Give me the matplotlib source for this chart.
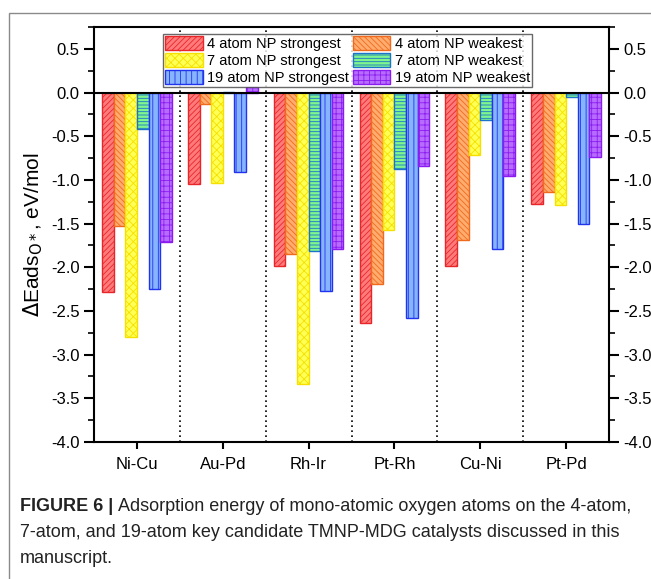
import numpy as np
import matplotlib.pyplot as plt
from matplotlib.patches import Rectangle
from matplotlib.ticker import MultipleLocator

plt.rcParams['font.family'] = ['Liberation Sans', 'DejaVu Sans']
plt.rcParams['hatch.linewidth'] = 0.6

# adsorption energies (eV/mol) per catalyst
catalysts = ['Ni-Cu', 'Au-Pd', 'Rh-Ir', 'Pt-Rh', 'Cu-Ni', 'Pt-Pd']
np4_strongest = [-2.28, -1.05, -1.99, -2.64, -1.99, -1.28]
np4_weakest = [-1.53, -0.13, -1.85, -2.19, -1.69, -1.14]
np7_strongest = [-2.80, -1.04, -3.34, -1.57, -0.72, -1.29]
np7_weakest = [-0.42, 0.01, -1.81, -0.88, -0.31, -0.05]
np19_strongest = [-2.25, -0.91, -2.27, -2.58, -1.79, -1.50]
np19_weakest = [-1.71, 0.06, -1.79, -0.84, -0.96, -0.74]

series = [
    ('4 atom NP strongest', np4_strongest, '#ff7b7b', '#e8262a', '//////'),
    ('4 atom NP weakest', np4_weakest, '#ffac6e', '#f06a1e', '\\\\\\\\\\\\'),
    ('7 atom NP strongest', np7_strongest, '#ffff55', '#f5e000', 'xxxx'),
    ('7 atom NP weakest', np7_weakest, '#7ff58f', '#1c73c8', '-----'),
    ('19 atom NP strongest', np19_strongest, '#86b4ff', '#2233ee', '|||'),
    ('19 atom NP weakest', np19_weakest, '#b86cff', '#8a1cf0', '+++'),
]

fig = plt.figure(figsize=(6.51, 5.79), dpi=100)
ax = fig.add_axes([0.1444, 0.2366, 0.7911, 0.7168])

x = np.arange(len(catalysts))
w = 0.135
handles = {}
for i, (label, vals, fc, ec, hatch) in enumerate(series):
    offs = (i - 2.5) * w
    b = ax.bar(x + offs, vals, w, color=fc, edgecolor=ec, hatch=hatch,
               linewidth=1.0, label=label, zorder=2)
    handles[label] = b

# dotted separators between catalysts
for s in np.arange(0.5, len(catalysts) - 0.5):
    ax.axvline(s, color='black', linestyle=(0, (1, 2)), linewidth=1.2, zorder=1)
ax.axhline(0, color='black', linewidth=1.5, zorder=3)

ax.set_xlim(-0.5, len(catalysts) - 0.5)
ax.set_ylim(-4.0, 0.75)
ax.set_xticks(x)
ax.set_xticklabels(catalysts)
ax.yaxis.set_major_locator(MultipleLocator(0.5))
ax.yaxis.set_minor_locator(MultipleLocator(0.25))
ax.yaxis.set_major_formatter(plt.FormatStrFormatter('%.1f'))
ax.tick_params(axis='y', which='major', direction='out', length=7, width=1.5,
               labelsize=12, left=True, right=True, labelleft=True, labelright=True)
ax.tick_params(axis='y', which='minor', direction='out', length=4, width=1.2,
               left=True, right=True)
ax.tick_params(axis='x', direction='out', length=5, width=1.5, labelsize=12, pad=6)
for sp in ax.spines.values():
    sp.set_linewidth(1.5)

ax.set_ylabel(r'$\Delta$Eads$_{\mathrm{O*}}$, eV/mol', fontsize=15, labelpad=4)

order = ['4 atom NP strongest', '7 atom NP strongest', '19 atom NP strongest',
         '4 atom NP weakest', '7 atom NP weakest', '19 atom NP weakest']
leg = ax.legend([handles[k] for k in order], order, ncol=2, loc='upper center',
                bbox_to_anchor=(0.492, 0.99), fontsize=10.5, frameon=True,
                fancybox=False, edgecolor='#444444', borderpad=0.15,
                labelspacing=0.12, handlelength=2.6, handleheight=1.1,
                handletextpad=0.3, columnspacing=0.25, borderaxespad=0.2)
leg.get_frame().set_linewidth(1.0)

# panel frame around figure and caption
fig.patches.append(Rectangle((9 / 651, -0.2), 1.2, 1.2 - 13 / 579,
                             transform=fig.transFigure, fill=False,
                             edgecolor='#8a8a8a', linewidth=1.0, clip_on=False))

cap_kw = dict(fontsize=13, color='#222222', va='baseline')
head = fig.text(20 / 651, 1 - 511 / 579, 'FIGURE 6 |', fontweight='bold', **cap_kw)
renderer = fig.canvas.get_renderer()
hb = head.get_window_extent(renderer)
fig.text((hb.x1 + 5) / 651, 1 - 511 / 579,
         'Adsorption energy of mono-atomic oxygen atoms on the 4-atom,', **cap_kw)
fig.text(20 / 651, 1 - 537 / 579,
         '7-atom, and 19-atom key candidate TMNP-MDG catalysts discussed in this', **cap_kw)
fig.text(20 / 651, 1 - 563 / 579, 'manuscript.', **cap_kw)

fig.savefig('out.png', dpi=100)
